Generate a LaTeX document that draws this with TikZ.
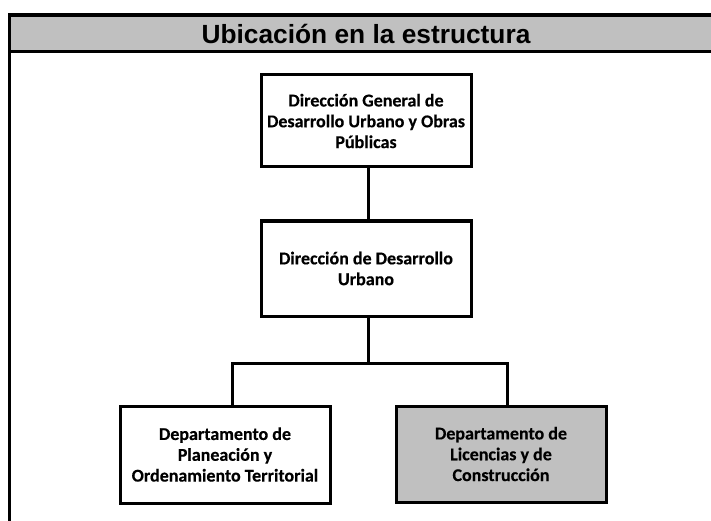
\documentclass[tikz,border=0pt]{standalone}
\usepackage{fontspec}
\setmainfont{Carlito}[BoldFeatures={FakeBold=0.4}]
\newfontfamily\headfont{Liberation Sans}
\tikzset{
  x=1pt, y=-1pt,
  orgbox/.style={draw=black, line width=3pt, fill=white, minimum width=210pt, align=center, inner sep=0pt,
    font=\fontsize{18}{20.8}\selectfont\bfseries},
  link/.style={draw=black, line width=3pt},
}
\begin{document}
\begin{tikzpicture}
\useasboundingbox (0,0) rectangle (711,521);
% frame and header
\fill[fill={rgb,255:red,192;green,192;blue,192}] (9.5,15) rectangle (715,51.5);
\draw[line width=3.5pt] (9.5,530) -- (9.5,15) -- (715,15);
\draw[line width=3pt] (9.5,51.5) -- (715,51.5);
\node[font=\headfont\fontsize{26.3}{30}\selectfont\bfseries] (title) at (366,33.5) {Ubicación en la estructura};
% boxes
\node[orgbox, minimum height=92pt] (top) at (366,121) {Dirección General de\\Desarrollo Urbano y Obras\\Públicas};
\node[orgbox, minimum height=95pt] (mid) at (366,268.5) {Dirección de Desarrollo\\Urbano};
\node[orgbox, minimum height=97pt] (left) at (225,454.5) {Departamento de\\Planeación y\\Ordenamiento Territorial};
\node[orgbox, minimum height=96pt, fill={rgb,255:red,192;green,192;blue,192}] (right) at (501,454) {Departamento de\\Licencias y de\\Construcción};
% connectors
\coordinate (bar) at (368,363);
\draw[link] ([xshift=2pt]top.south) -- ([xshift=2pt]mid.north);
\draw[link] ([xshift=2pt]mid.south) -- (bar);
\draw[link] ([xshift=7pt]left.north) |- (bar) -| ([xshift=6pt]right.north);
\end{tikzpicture}
\end{document}
